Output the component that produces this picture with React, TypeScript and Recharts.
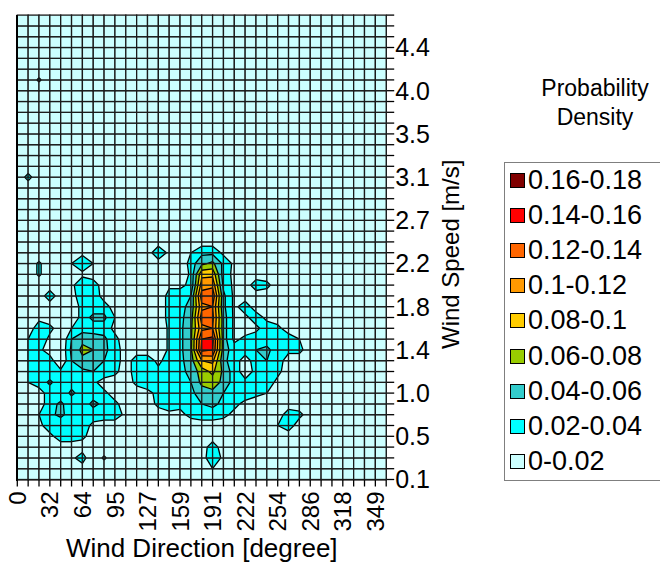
import React from "react";
import { ScatterChart, Scatter, XAxis, YAxis } from "recharts";

const directionLabels = ["0", "32", "64", "95", "127", "159", "191", "222", "254", "286", "318", "349"];
const speedLabels = ["0.1", "0.5", "1.0", "1.4", "1.8", "2.2", "2.7", "3.1", "3.5", "4.0", "4.4"];
const levelLabels = [
  "0-0.02", "0.02-0.04", "0.04-0.06", "0.06-0.08", "0.08-0.1",
  "0.1-0.12", "0.12-0.14", "0.14-0.16", "0.16-0.18",
];
const levelColors = ["#CCFFFF", "#00FFFF", "#33CCCC", "#99CC00", "#FFCC00", "#FF9900", "#FF6600", "#FF0000", "#800000"];

const directionBins = 34;
const speedBins = 43;

// density at the grid nodes, top row = speed bin 43, one char per direction bin 0..34
// "." = 0.01, otherwise base-36 digit in steps of 0.005
const densityRows = [
  "...................................",
  "...................................",
  "...................................",
  "...................................",
  "...................................",
  "..0................................",
  ".050...............................",
  "..0................................",
  "...................................",
  "...................................",
  "...................................",
  "...................................",
  "...................................",
  "...................................",
  ".0.................................",
  "060................................",
  ".0.................................",
  "...................................",
  "...................................",
  "...................................",
  "...................................",
  "...................................",
  "..0...3......73.4773...............",
  ".050.474.......06bd73..............",
  ".050..3........05jj63..............",
  "..0..376......335mn73.65...........",
  "...6..77.....0668qr93..............",
  ".....0666....0679no9362............",
  "..3..06994...067aqpa3363...........",
  "..65.46663...057bnoa3.365..........",
  ".47308ba95...057bsta3566664........",
  ".45.09dc96...057btsa6689655........",
  ".47608ba86.66367akl962686..........",
  ".465567875.665679ehb62565..........",
  ".45956652..566668deb65663..........",
  "..3559665...35667ab86654...........",
  "...6956975...565689753.............",
  "..479666663..23356653....65........",
  "..365663................46.........",
  "...3665............................",
  "........0.........6................",
  ".....36050........73...............",
  "........0.........43...............",
  "...................................",
];

const FONT = "'Liberation Sans', Arial, sans-serif";
const W = 660;
const H = 567;
const margin = { top: 15.1, left: 17.3, right: 233.8, bottom: 37.5 };
const Y_AXIS_W = 40;
const X_AXIS_H = 50;
const CELL_W = (W - margin.left - margin.right - Y_AXIS_W) / directionBins;
const CELL_H = (H - margin.top - margin.bottom - X_AXIS_H) / speedBins;

// work in 0.005 units so the level tests stay exact
const UNIT = 0.005;
const nodeUnits = (c: number, r: number) => {
  const ch = (densityRows[speedBins - r] || "")[c] || ".";
  return ch === "." ? 0.01 / UNIT : parseInt(ch, 36);
};
const levelUnits = (k: number) => Math.round((k * 0.02) / UNIT);

const cells: { x: number; y: number; v: number[] }[] = [];
for (let r = 0; r < speedBins; r++) {
  for (let c = 0; c < directionBins; c++) {
    cells.push({
      x: c + 0.5,
      y: r + 0.5,
      v: [nodeUnits(c, r), nodeUnits(c + 1, r), nodeUnits(c + 1, r + 1), nodeUnits(c, r + 1)],
    });
  }
}

type Pt = [number, number];
const lerp = (a: Pt, b: Pt, f: number): Pt => [a[0] + (b[0] - a[0]) * f, a[1] + (b[1] - a[1]) * f];
const toPath = (pts: Pt[]) => "M" + pts.map((p) => `${p[0].toFixed(2)},${p[1].toFixed(2)}`).join("L") + "Z";

function ContourCell(props: any) {
  const { cx, cy, payload } = props;
  if (cx == null || cy == null) return <g />;
  const v: number[] = payload.v;
  const x0 = cx - CELL_W / 2;
  const x1 = cx + CELL_W / 2;
  const yb = cy + CELL_H / 2;
  const yt = cy - CELL_H / 2;
  const pts: Pt[] = [[x0, yb], [x1, yb], [x1, yt], [x0, yt]];
  const fills: { d: string; k: number }[] = [];
  const lines: [Pt, Pt][] = [];

  for (let k = 1; k < levelColors.length; k++) {
    const t = levelUnits(k);
    const ins = v.map((a) => a >= t);
    const n = ins.filter(Boolean).length;
    if (n === 0) break;
    if (n === 4) {
      fills.push({ d: toPath(pts), k });
      continue;
    }
    const cross = (i: number, j: number) => lerp(pts[i], pts[j], (t - v[i]) / (v[j] - v[i]));
    const center = (v[0] + v[1] + v[2] + v[3]) / 4;
    if (n === 2 && ins[0] === ins[2] && center < t) {
      for (let i = 0; i < 4; i++) {
        if (!ins[i]) continue;
        const a = cross(i, (i + 1) % 4);
        const b = cross(i, (i + 3) % 4);
        fills.push({ d: toPath([pts[i], a, b]), k });
        lines.push([a, b]);
      }
      continue;
    }
    const poly: { p: Pt; x: boolean }[] = [];
    for (let i = 0; i < 4; i++) {
      const j = (i + 1) % 4;
      if (ins[i]) poly.push({ p: pts[i], x: false });
      if (ins[i] !== ins[j]) poly.push({ p: cross(i, j), x: true });
    }
    fills.push({ d: toPath(poly.map((q) => q.p)), k });
    for (let i = 0; i < poly.length; i++) {
      const a = poly[i];
      const b = poly[(i + 1) % poly.length];
      if (a.x && b.x) lines.push([a.p, b.p]);
    }
  }

  return (
    <g>
      <rect x={x0} y={yt} width={CELL_W} height={CELL_H} fill={levelColors[0]} />
      {fills.map((f, i) => (
        <path key={"f" + i} d={f.d} fill={levelColors[f.k]} stroke="none" />
      ))}
      {lines.map((l, i) => (
        <line key={"l" + i} x1={l[0][0]} y1={l[0][1]} x2={l[1][0]} y2={l[1][1]} stroke="#000" strokeWidth={1.3} />
      ))}
      <rect x={x0} y={yt} width={CELL_W} height={CELL_H} fill="none" stroke="#1a1a1a" strokeWidth={1.3} />
    </g>
  );
}

const dirTicks = Array.from({ length: directionBins + 1 }, (_, i) => i);
const speedTicks = Array.from({ length: speedBins + 1 }, (_, i) => i);

function DirectionTick(props: any) {
  const { x, y, payload } = props;
  const i = payload.value;
  if (i % 3 !== 0) return <g />;
  return (
    <text
      x={x}
      y={y}
      transform={`rotate(-90 ${x} ${y})`}
      textAnchor="end"
      dy="0.36em"
      fontSize={24}
      fontFamily={FONT}
      fill="#000"
    >
      {directionLabels[i / 3]}
    </text>
  );
}

function SpeedTitle(props: any) {
  const vb = props.viewBox || { x: 0, y: 0, width: 0, height: 0 };
  const x = vb.x + vb.width + 33;
  const y = vb.y + vb.height / 2 + 7;
  return (
    <text x={x} y={y} transform={`rotate(-90 ${x} ${y})`} textAnchor="middle" fontSize={24} fontFamily={FONT} fill="#000">
      Wind Speed [m/s]
    </text>
  );
}

export default function App() {
  return (
    <div style={{ position: "absolute", left: 0, top: 0, width: W, height: H, overflow: "hidden", background: "#fff", fontFamily: FONT }}>
      <ScatterChart width={W} height={H} margin={margin}>
        <XAxis
          type="number"
          dataKey="x"
          domain={[0, directionBins]}
          ticks={dirTicks}
          interval={0}
          tick={<DirectionTick />}
          tickSize={7}
          tickMargin={5}
          height={X_AXIS_H}
          axisLine={{ stroke: "#000", strokeWidth: 2 }}
          tickLine={{ stroke: "#000", strokeWidth: 1.3 }}
          label={{
            value: "Wind Direction [degree]",
            position: "bottom",
            offset: 9,
            style: { fontSize: 26, fontFamily: FONT, fill: "#000" },
          }}
        />
        <YAxis
          type="number"
          dataKey="y"
          orientation="right"
          domain={[0, speedBins]}
          ticks={speedTicks}
          interval={0}
          width={Y_AXIS_W}
          tickSize={8}
          tickMargin={1}
          tickFormatter={(v: number) => (v % 4 === 0 ? speedLabels[v / 4] : "")}
          tick={{ fontSize: 25, fontFamily: FONT, fill: "#000" }}
          axisLine={{ stroke: "#000", strokeWidth: 1.5 }}
          tickLine={{ stroke: "#000", strokeWidth: 1.3 }}
          label={<SpeedTitle />}
        />
        <Scatter data={cells} shape={ContourCell} isAnimationActive={false} />
      </ScatterChart>
      <div style={{ position: "absolute", left: 0, top: 0, width: 2, height: 466, marginLeft: 16.3, marginTop: 14.5, background: "#000" }} />
      <div style={{ position: "absolute", left: 520, top: 74, width: 150, textAlign: "center", fontSize: 23, lineHeight: "29px", color: "#000" }}>
        Probability
        <br />
        Density
      </div>
      <div style={{ position: "absolute", left: 504, top: 162, width: 200, height: 319, border: "1px solid #7f7f7f", boxSizing: "border-box" }}>
        {levelLabels
          .map((label, k) => ({ label, k }))
          .reverse()
          .map(({ label, k }) => (
            <div key={label} style={{ display: "flex", alignItems: "center", height: 35.1, paddingLeft: 5, fontSize: 27, color: "#000", whiteSpace: "nowrap" }}>
              <span style={{ display: "inline-block", flex: "none", width: 13, height: 13, background: levelColors[k], border: "1px solid #000", marginRight: 3 }} />
              {label}
            </div>
          ))}
      </div>
    </div>
  );
}
